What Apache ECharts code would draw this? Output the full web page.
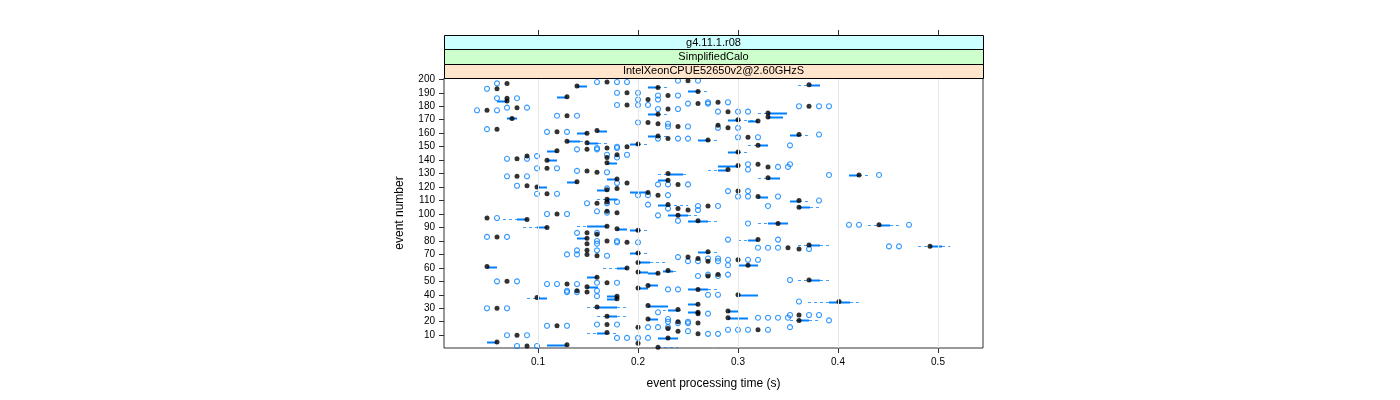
<!DOCTYPE html>
<html>
<head>
<meta charset="utf-8">
<script src="https://cdn.jsdelivr.net/npm/echarts@6/dist/echarts.min.js"></script>
<style>
html,body{margin:0;padding:0;background:#fff;}
#chart{width:1400px;height:400px;}
</style>
</head>
<body>
<div id="chart"></div>
<script>
// ---- axis ticks ----
const xTicks = [0.1, 0.2, 0.3, 0.4, 0.5];
const yTicks = [10,20,30,40,50,60,70,80,90,100,110,120,130,140,150,160,170,180,190,200];
const stripLabels = ['g4.11.1.r08', 'SimplifiedCalo', 'IntelXeonCPUE52650v2@2.60GHzS'];

// ---- medians (one per event) ----
const events = [
  199,198,197,196,195,194,193,191,190,188,
  187,186,185,184,183,182,181,180,179,178,
  177,176,175,174,173,172,171,170,169,168,
  167,166,165,164,163,162,161,160,159,158,
  157,156,155,154,153,152,151,150,149,148,
  147,146,144,143,142,141,140,138,137,136,
  135,134,133,132,131,130,129,128,127,126,
  125,124,123,122,121,120,119,118,117,116,
  115,114,113,111,110,109,108,107,106,105,
  104,103,102,101,100,99,97,96,95,93,
  92,91,90,89,88,86,85,83,82,81,
  80,79,78,77,76,75,74,73,72,71,
  70,69,68,67,66,65,64,62,61,60,
  58,57,56,55,54,53,51,50,49,48,
  47,46,45,44,43,42,40,39,38,37,
  35,33,32,31,30,29,28,27,26,25,
  24,23,22,21,20,19,18,17,16,15,
  14,13,12,11,10,8,5,4,3,2,
  1
];
const medians = [
  .250,.169,.069,.371,.139,.220,.059,.260,.189,.230,
  .129,.069,.210,.069,.280,.260,.189,.371,.079,.230,
  .049,.290,.330,.220,.129,.330,.074,.300,.320,.210,
  .220,.280,.240,.290,.059,.159,.119,.149,.361,.220,
  .310,.230,.270,.129,.149,.200,.320,.189,.169,.149,
  .119,.300,.179,.089,.169,.079,.109,.169,.320,.300,
  .330,.109,.290,.149,.159,.230,.421,.079,.330,.179,
  .230,.139,.189,.240,.089,.099,.179,.169,.300,.210,
  .109,.220,.320,.169,.361,.169,.159,.230,.270,.361,
  .240,.250,.169,.179,.119,.240,.049,.089,.260,.340,
  .441,.169,.109,.179,.200,.149,.159,.059,.149,.320,
  .169,.189,.149,.371,.492,.350,.361,.149,.270,.200,
  .149,.159,.250,.260,.300,.270,.200,.310,.049,.189,
  .230,.200,.220,.280,.270,.159,.371,.069,.169,.129,
  .210,.149,.200,.260,.139,.149,.300,.179,.099,.179,
  .401,.260,.210,.159,.059,.240,.290,.260,.260,.361,
  .169,.290,.210,.361,.240,.260,.169,.119,.200,.230,
  .320,.240,.169,.260,.079,.230,.059,.200,.129,.089,
  .220
];

// ---- boxes and whiskers (events whose box is wider than a point) ----
const boxEvents = [
  196,195,194,191,187,184,175,174,172,171,
  170,169,162,160,159,158,155,154,153,152,
  151,147,146,140,138,136,133,130,129,127,
  126,125,124,120,118,116,113,111,110,107,
  105,99,96,95,93,92,91,90,89,88,
  82,81,77,76,72,71,64,62,61,60,
  58,57,56,53,51,47,46,45,44,40,
  39,38,37,35,33,32,31,29,28,27,
  24,23,22,21,12,8,5,3,1
];
const boxLo = [
  .371,.139,.210,.250,.119,.059,.330,.210,.330,.069,
  .290,.310,.159,.139,.352,.210,.260,.129,.149,.192,
  .320,.109,.290,.109,.169,.280,.280,.230,.411,.330,
  .169,.220,.129,.099,.159,.192,.320,.169,.352,.220,
  .361,.230,.079,.250,.330,.441,.149,.099,.179,.192,
  .139,.310,.371,.492,.260,.192,.200,.300,.049,.179,
  .225,.200,.210,.149,.371,.210,.149,.200,.250,.300,
  .169,.099,.169,.391,.250,.210,.159,.230,.290,.250,
  .169,.290,.210,.361,.159,.220,.049,.109,.220
];
const boxHi = [
  .382,.149,.220,.260,.129,.069,.349,.220,.345,.079,
  .300,.320,.169,.149,.361,.220,.270,.142,.160,.200,
  .330,.119,.300,.119,.179,.300,.290,.245,.421,.342,
  .179,.230,.139,.109,.169,.210,.330,.179,.361,.230,
  .372,.250,.089,.270,.350,.452,.169,.109,.189,.200,
  .149,.320,.382,.504,.270,.200,.212,.320,.059,.189,
  .235,.210,.220,.159,.382,.220,.160,.210,.270,.320,
  .179,.109,.179,.412,.260,.230,.179,.240,.300,.260,
  .179,.310,.220,.371,.169,.240,.059,.129,.220
];
const whiskLo = [
  .360,.139,.210,.250,.119,.059,.320,.210,.330,.069,
  .290,.310,.159,.139,.352,.210,.260,.129,.149,.192,
  .310,.109,.290,.109,.169,.280,.270,.220,.411,.320,
  .169,.220,.129,.099,.159,.192,.320,.159,.352,.220,
  .361,.230,.065,.250,.320,.430,.139,.085,.179,.192,
  .139,.300,.360,.480,.260,.192,.200,.300,.049,.165,
  .225,.200,.210,.149,.360,.210,.149,.200,.250,.300,
  .169,.089,.169,.370,.250,.210,.149,.225,.290,.250,
  .159,.290,.210,.352,.149,.220,.049,.109,.220
];
const whiskHi = [
  .382,.149,.230,.270,.129,.069,.349,.230,.345,.079,
  .317,.320,.169,.149,.372,.230,.280,.150,.169,.210,
  .330,.119,.310,.119,.179,.300,.290,.250,.432,.342,
  .179,.230,.139,.109,.169,.210,.330,.179,.372,.250,
  .382,.260,.089,.280,.350,.462,.169,.109,.189,.210,
  .149,.320,.392,.512,.280,.210,.228,.320,.059,.189,
  .240,.210,.220,.159,.392,.220,.160,.210,.280,.320,
  .179,.109,.179,.422,.260,.230,.190,.245,.300,.260,
  .190,.310,.220,.382,.178,.240,.059,.129,.240
];

// ---- outliers ----
const outlierEvent = [
  199,199,198,198,198,197,193,190,190,188,188,186,186,185,185,
  183,183,182,182,181,181,181,180,180,180,179,179,178,178,177,177,
  176,176,176,173,173,168,167,165,165,164,164,163,161,161,159,
  157,157,156,156,156,151,150,149,149,148,148,144,144,143,142,141,141,
  137,137,135,135,134,134,133,132,131,129,129,128,128,123,
  122,122,122,121,119,117,117,115,115,114,114,114,113,113,113,
  110,109,108,108,107,106,106,106,104,103,102,101,100,100,99,97,95,93,
  92,92,92,86,86,83,83,81,81,80,80,79,79,78,76,76,
  75,75,75,74,73,73,70,70,69,68,67,67,66,66,66,65,65,65,
  62,55,55,54,54,51,50,50,49,49,48,48,48,44,44,43,43,42,42,
  40,40,39,35,30,30,27,26,25,25,25,23,23,23,23,22,21,
  20,20,19,19,18,18,17,17,16,16,16,16,14,14,14,14,13,11,11,10,10,8,8,8,8,2,2
];
const outlierTime = [
  .240,.260,.159,.179,.189,.059,.049,.179,.200,.220,.240,.059,.079,.200,.220,
  .270,.290,.250,.270,.179,.200,.210,.361,.381,.391,.069,.089,.220,.240,.039,.059,
  .280,.300,.310,.119,.139,.200,.230,.230,.250,.280,.300,.049,.109,.129,.381,
  .300,.320,.220,.240,.250,.352,.179,.159,.179,.139,.159,.169,.189,.099,.179,.069,.089,
  .310,.352,.340,.350,.099,.119,.310,.139,.169,.391,.441,.069,.089,.179,
  .220,.230,.250,.079,.169,.290,.310,.099,.119,.200,.210,.230,.300,.310,.340,
  .381,.179,.149,.169,.210,.260,.280,.330,.230,.260,.159,.169,.109,.129,.220,.059,.240,.310,
  .411,.421,.471,.139,.159,.049,.069,.290,.340,.159,.179,.179,.200,.159,.451,.461,
  .320,.330,.340,.371,.139,.159,.129,.139,.169,.240,.270,.280,.290,.310,.320,.250,.260,.280,
  .290,.270,.290,.260,.280,.352,.059,.079,.159,.179,.109,.119,.139,.230,.240,.129,.159,.129,.139,
  .270,.280,.159,.361,.049,.069,.220,.270,.352,.371,.381,.320,.330,.340,.350,.230,.391,
  .230,.250,.240,.250,.159,.179,.109,.129,.210,.220,.230,.352,.290,.300,.310,.330,.250,.270,.280,.069,.089,.179,.189,.200,.210,.079,.099
];

// ---- chart ----
const BLUE = '#0080ff';
const PANEL = {left: 444, right: 983, top: 78, bottom: 348};
const chart = echarts.init(document.getElementById('chart'), null, {renderer: 'canvas'});

const boxData = boxEvents.map((e, i) => [e, boxLo[i], boxHi[i], whiskLo[i], whiskHi[i]]);
const medianData = events.map((e, i) => [medians[i], e]);
const outlierData = outlierEvent.map((e, i) => [outlierTime[i], e]);

function renderBox(params, api) {
  const e = api.value(0);
  const lo = api.value(1), hi = api.value(2), wl = api.value(3), wh = api.value(4);
  const pLo = api.coord([lo, e]);
  const pHi = api.coord([hi, e]);
  const pWl = api.coord([wl, e]);
  const pWh = api.coord([wh, e]);
  const y = Math.round(pLo[1]) + 0.5;
  const children = [];
  const dashStyle = {stroke: BLUE, lineWidth: 1, lineDash: [3, 3], opacity: 0.75};
  if (wl < lo) children.push({type: 'line', shape: {x1: pWl[0], y1: y, x2: pLo[0], y2: y}, style: dashStyle});
  if (wh > hi) children.push({type: 'line', shape: {x1: pHi[0], y1: y, x2: pWh[0], y2: y}, style: dashStyle});
  if (hi > lo) children.push({type: 'rect', shape: {x: pLo[0], y: y - 1, width: pHi[0] - pLo[0], height: 2}, style: {fill: BLUE}});
  return {type: 'group', children: children};
}

const stripH = (PANEL.top - 35) / 3;
const stripColors = ['#ccffff', '#ccffcc', '#ffe5cc'];
const graphics = [];
stripLabels.forEach((t, i) => {
  const y0 = 35 + i * stripH;
  graphics.push({
    type: 'rect', silent: true, z: 10,
    shape: {x: PANEL.left + 0.5, y: Math.round(y0) + 0.5, width: PANEL.right - PANEL.left, height: Math.round(y0 + stripH) - Math.round(y0)},
    style: {fill: stripColors[i], stroke: '#000', lineWidth: 1}
  });
  graphics.push({
    type: 'text', silent: true, z: 11,
    x: (PANEL.left + PANEL.right) / 2, y: y0 + stripH / 2 + 0.5,
    style: {text: t, fill: '#000', font: '11px "Liberation Sans", Arial, sans-serif', align: 'center', verticalAlign: 'middle'}
  });
});

const option = {
  animation: false,
  backgroundColor: '#fff',
  textStyle: {fontFamily: '"Liberation Sans", Arial, sans-serif'},
  grid: {
    left: PANEL.left, right: 1400 - PANEL.right, top: PANEL.top, bottom: 400 - PANEL.bottom,
    show: true, borderColor: '#333', borderWidth: 1, backgroundColor: 'transparent'
  },
  xAxis: [
    {
      type: 'value', min: 0.006, max: 0.545, position: 'bottom',
      axisLine: {show: false},
      axisTick: {show: true, length: 5, customValues: xTicks, lineStyle: {color: '#333'}},
      axisLabel: {customValues: xTicks, fontSize: 10, color: '#000', margin: 9,
                  fontFamily: '"Liberation Sans", Arial, sans-serif'},
      splitLine: {show: false},
      name: 'event processing time (s)', nameLocation: 'middle', nameGap: 30,
      nameTextStyle: {fontSize: 12, color: '#000', fontFamily: '"Liberation Sans", Arial, sans-serif'}
    },
    {
      type: 'value', min: 0.006, max: 0.545, position: 'top', offset: PANEL.top - 35,
      axisLine: {show: false},
      axisTick: {show: true, length: 5, customValues: xTicks, lineStyle: {color: '#333'}},
      axisLabel: {show: false},
      splitLine: {show: false}
    }
  ],
  yAxis: {
    type: 'value', min: 0.5, max: 201,
    axisLine: {show: false},
    axisTick: {show: true, length: 5, customValues: yTicks, lineStyle: {color: '#333'}},
    axisLabel: {customValues: yTicks, fontSize: 10, color: '#000', margin: 9,
                fontFamily: '"Liberation Sans", Arial, sans-serif'},
    splitLine: {show: false},
    name: 'event number', nameLocation: 'middle', nameGap: 38, nameRotate: 90,
    nameTextStyle: {fontSize: 12, color: '#000', fontFamily: '"Liberation Sans", Arial, sans-serif'}
  },
  series: [
    {
      type: 'scatter', data: [], z: 1, silent: true,
      markLine: {
        silent: true, symbol: ['none', 'none'], label: {show: false},
        lineStyle: {color: '#e6e6e6', type: 'solid', width: 1},
        data: xTicks.map(v => ({xAxis: v}))
      }
    },
    {
      type: 'custom', renderItem: renderBox, data: boxData, z: 2, silent: true,
      encode: {x: [1, 2, 3, 4], y: 0}
    },
    {
      type: 'scatter', data: outlierData, z: 3, silent: true,
      symbol: 'circle', symbolSize: 5,
      itemStyle: {color: 'rgba(255,255,255,0)', borderColor: BLUE, borderWidth: 1.1}
    },
    {
      type: 'scatter', data: medianData, z: 4, silent: true,
      symbol: 'circle', symbolSize: 5,
      itemStyle: {color: '#000'}
    }
  ],
  graphic: graphics
};
chart.setOption(option);
</script>
</body>
</html>
